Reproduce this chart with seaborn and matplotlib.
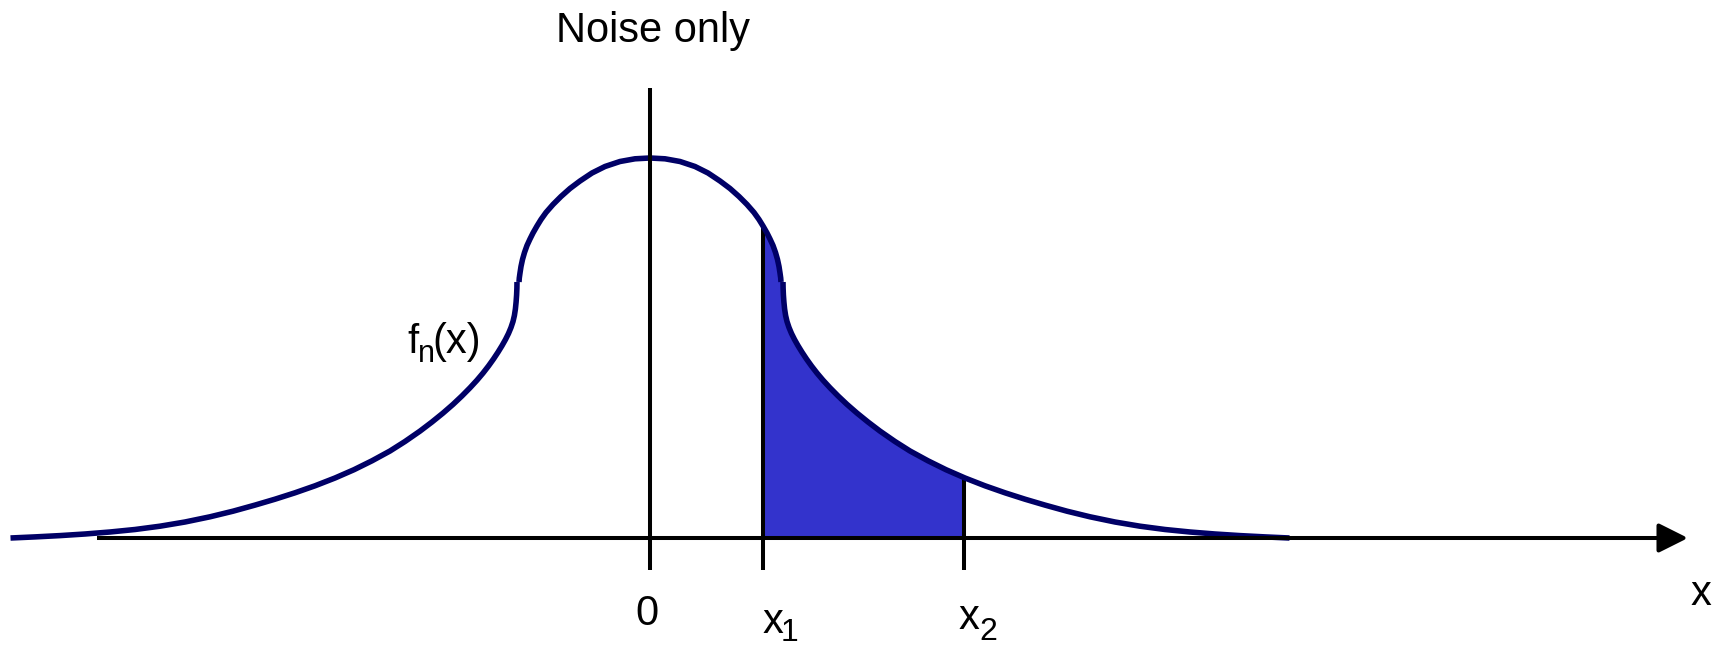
import numpy as np
import pandas as pd
import matplotlib
matplotlib.use("Agg")
import matplotlib.pyplot as plt
import seaborn as sns

# Upper cap of the noise density: distance from the centre and height
cap_offset = [0.00, 0.15, 0.30, 0.45, 0.58, 0.70, 0.80, 0.89, 0.97, 1.04, 1.09,
              1.13, 1.17, 1.20, 1.23, 1.255, 1.275, 1.29, 1.30, 1.307, 1.31]
cap_height = [3.80, 3.792, 3.765, 3.715, 3.65, 3.57, 3.495, 3.415, 3.335, 3.255, 3.185,
              3.12, 3.05, 2.99, 2.925, 2.855, 2.785, 2.715, 2.65, 2.60, 2.56]

# Decaying tails on either side of the cap
tail_offset = [1.330, 1.331, 1.334, 1.339, 1.346, 1.356, 1.370, 1.390, 1.415, 1.445,
               1.480, 1.520, 1.565, 1.615, 1.670, 1.730, 1.800, 1.880, 1.970, 2.070,
               2.180, 2.300, 2.450, 2.600, 2.780, 2.960, 3.150, 3.350, 3.550, 3.750,
               3.950, 4.170, 4.400, 4.650, 4.900, 5.150, 5.400, 5.650, 5.900, 6.150,
               6.395]
tail_height = [2.560, 2.500, 2.430, 2.360, 2.290, 2.225, 2.165, 2.105, 2.045, 1.985,
               1.923, 1.858, 1.790, 1.720, 1.649, 1.578, 1.502, 1.421, 1.336, 1.249,
               1.160, 1.069, 0.965, 0.870, 0.772, 0.683, 0.600, 0.522, 0.452, 0.388,
               0.329, 0.268, 0.212, 0.160, 0.118, 0.085, 0.060, 0.040, 0.024, 0.011,
               0.0]

# Integration limits
x1 = 1.13
x2 = 3.14

title_text = "Noise only"
tick_labels = ["0", "x", "x"]
tick_subs = ["", "1", "2"]
axis_label = "x"

CURVE = "#000066"
FILL = "#3333cc"

sns.set_theme(style="white")
plt.rcParams["font.family"] = ["Liberation Sans", "DejaVu Sans"]
plt.rcParams["text.color"] = "black"

fig = plt.figure(figsize=(17.21, 6.46), dpi=100)
ax = fig.add_axes([0, 0, 1, 1])
ax.set_xlim(-6.50, 10.71)
ax.set_ylim(-1.08, 5.38)
ax.axis("off")

cap_o = np.array(cap_offset)
cap_h = np.array(cap_height)
tail_o = np.array(tail_offset)
tail_h = np.array(tail_height)

cap = pd.DataFrame({"x": np.concatenate([-cap_o[::-1], cap_o[1:]]),
                    "y": np.concatenate([cap_h[::-1], cap_h[1:]])})
left_tail = pd.DataFrame({"x": -tail_o, "y": tail_h})
right_tail = pd.DataFrame({"x": tail_o, "y": tail_h})

# full right half of the curve, used for the shaded area
half_x = np.concatenate([cap_o, tail_o])
half_y = np.concatenate([cap_h, tail_h])

def density(v):
    return np.interp(v, half_x, half_y)

# shaded probability between x1 and x2
inside = (half_x > x1) & (half_x < x2)
fx = np.concatenate([[x1], half_x[inside], [x2]])
fy = np.concatenate([[density(x1)], half_y[inside], [density(x2)]])
ax.fill_between(fx, 0, fy, color=FILL, lw=0, zorder=1)

for part in (cap, left_tail, right_tail):
    sns.lineplot(data=part, x="x", y="y", sort=False, estimator=None,
                 color=CURVE, linewidth=4.0, ax=ax, zorder=3,
                 solid_joinstyle="round", solid_capstyle="butt")

# horizontal axis with arrow head
ax.annotate("", xy=(10.38, 0), xytext=(-5.53, 0),
            arrowprops=dict(arrowstyle="-|>,head_length=0.9,head_width=0.45",
                            color="black", lw=2.9, shrinkA=0, shrinkB=0,
                            mutation_scale=20, capstyle="butt"),
            zorder=4)

# vertical line at zero and the two limit markers
ax.plot([0, 0], [-0.32, 4.50], color="black", lw=2.9, solid_capstyle="butt", zorder=5)
for xv in (x1, x2):
    ax.plot([xv, xv], [-0.32, density(xv)], color="black", lw=2.9,
            solid_capstyle="butt", zorder=2)

ax.text(0.03, 4.96, title_text, fontsize=30, ha="center", va="baseline")

ax.text(-0.035, -0.87, tick_labels[0], fontsize=30, ha="center", va="baseline")
ax.text(1.225, -0.95, tick_labels[1], fontsize=30, ha="center", va="baseline")
ax.text(1.40, -1.03, tick_subs[1], fontsize=23, ha="center", va="baseline")
ax.text(3.185, -0.91, tick_labels[2], fontsize=30, ha="center", va="baseline")
ax.text(3.385, -1.02, tick_subs[2], fontsize=23, ha="center", va="baseline")

ax.text(10.505, -0.67, axis_label, fontsize=30, ha="center", va="baseline")

# curve label f_n(x)
ax.text(-2.43, 1.85, "f", fontsize=29, ha="left", va="baseline")
ax.text(-2.32, 1.76, "n", fontsize=22, ha="left", va="baseline")
ax.text(-2.18, 1.85, "(x)", fontsize=30, ha="left", va="baseline")

fig.savefig("out.png", dpi=100)
